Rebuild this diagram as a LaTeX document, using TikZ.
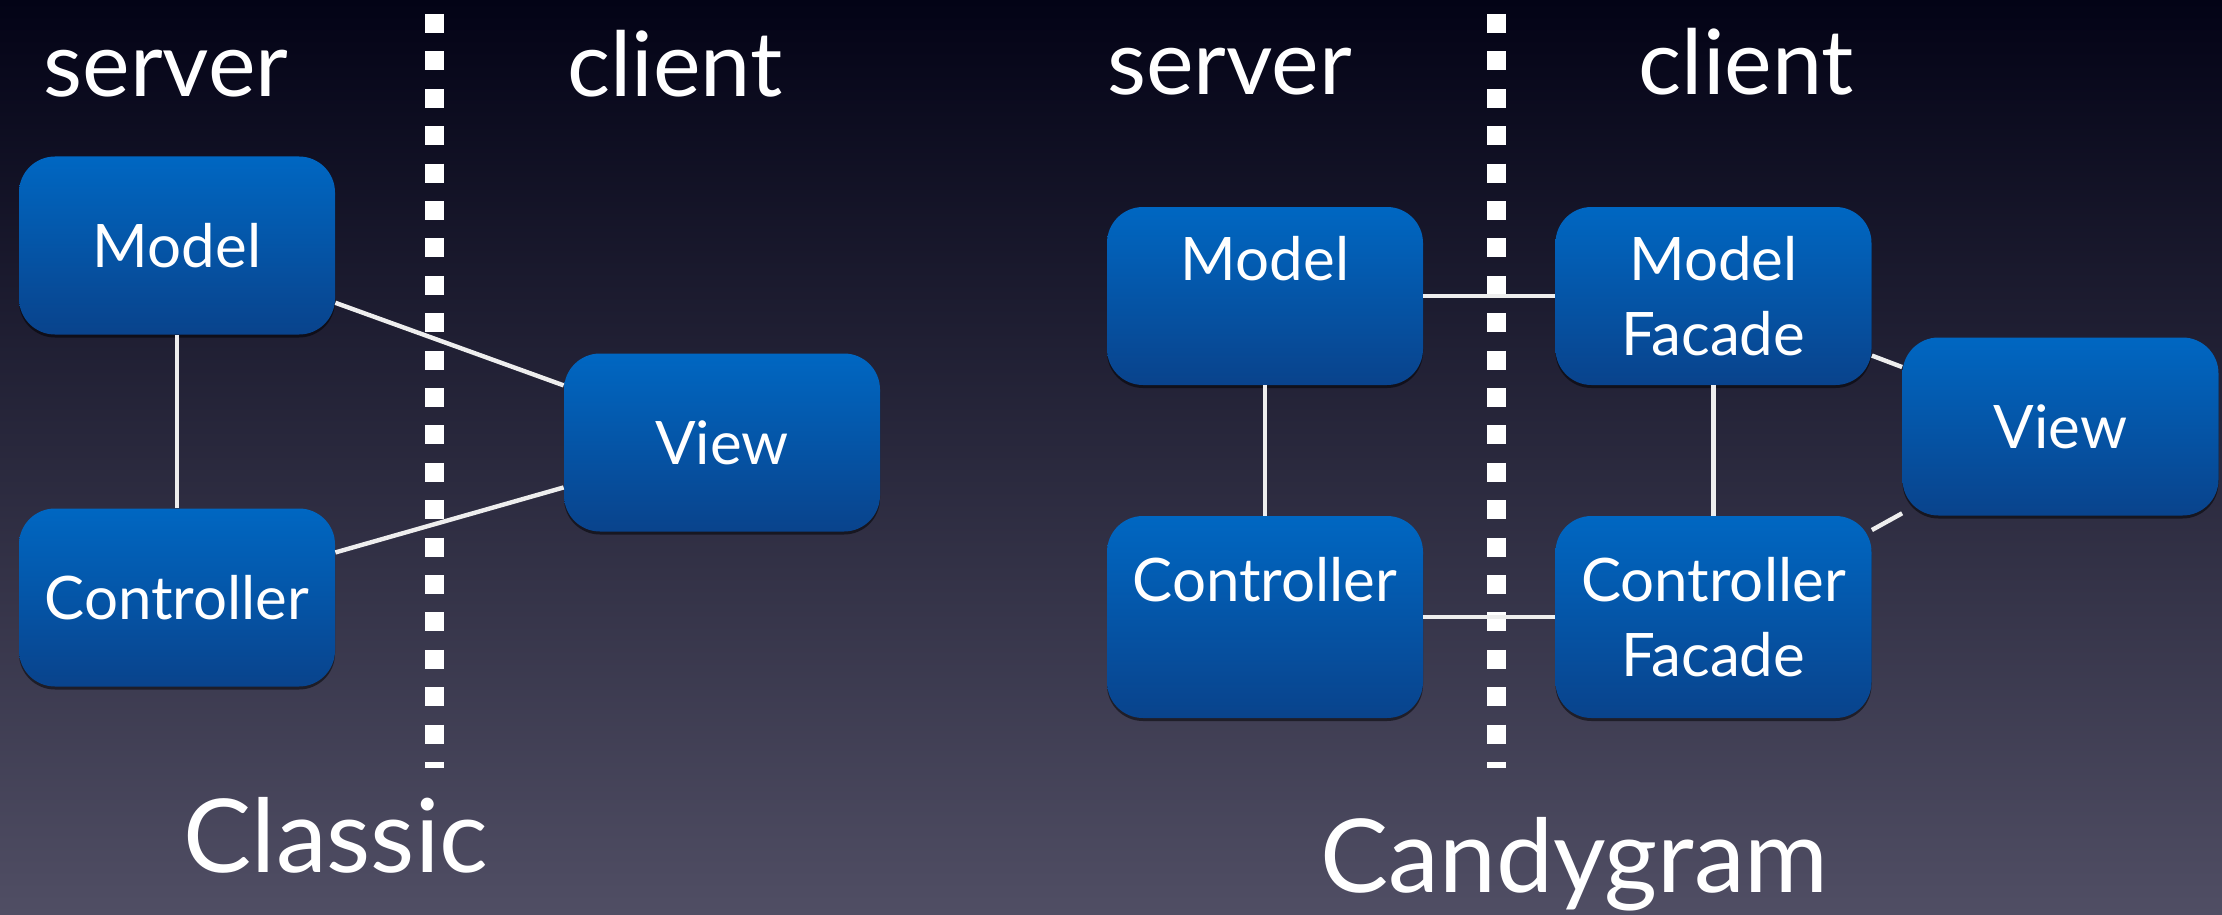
\documentclass[tikz,border=0pt]{standalone}
\usepackage{fontspec}
\setmainfont{Lato}
\usetikzlibrary{
  chains,
  scopes,
  shadows
}

\definecolor{bgtop}{RGB}{3,3,22}
\definecolor{bgmid}{RGB}{30,29,50}
\definecolor{bgbottom}{RGB}{80,78,100}
\definecolor{boxtop}{RGB}{0,103,194}
\definecolor{boxbottom}{RGB}{9,67,140}
\definecolor{linkgray}{RGB}{238,238,238}

\begin{document}
\begin{tikzpicture}[
      x=0.5pt,y=-0.5pt,
      box/.style={
         rectangle,
         rounded corners=18pt,
         minimum width=158pt,
         minimum height=89pt,
         top color=boxtop,
         bottom color=boxbottom,
         align=center,
         text=white,
         font=\fontsize{30}{37.5}\selectfont,
         drop shadow={shadow xshift=0pt,shadow yshift=-1.5pt,opacity=0.5,fill=black}
      },
      tall box/.style={box,minimum height=101pt},
      one line/.style={text depth=-6pt},
      two lines/.style={text depth=-3pt},
      heading/.style={anchor=base,text=white,font=\fontsize{45}{54}\selectfont},
      title/.style={anchor=base,text=white,font=\fontsize{51}{60}\selectfont},
      divider/.style={draw=white,line width=9.5pt,dash pattern=on 9.5pt off 9.2pt},
      every join/.style={draw=linkgray,line width=2.2pt}
    ]
    \useasboundingbox[top color=bgtop,middle color=bgmid,bottom color=bgbottom]
       (0,0) rectangle (2222,915);
    % dotted borders between server and client
    \coordinate (cltop) at (434.5,14);
    \coordinate (clbot) at (434.5,768);
    \coordinate (cgtop) at (1496.5,14);
    \coordinate (cgbot) at (1496.5,768);
    \draw[divider] (cltop) -- (clbot);
    \draw[divider] (cgtop) -- (cgbot);
    % classic
    \node (clhead1) [heading] at (166,97) {server};
    \node (clhead2) [heading] at (675,97) {client};
    \node (clmodel) [box,one line] at (177,245.5) {Model};
    \node (clctrl) [box,one line] at (177,597.5) {Controller};
    \node (clview) [box,one line] at (722,442.5) {View};
    \node (cltitle) [title] at (336,872) {Classic};
    % candygram
    \node (cghead1) [heading] at (1229.5,95) {server};
    \node (cghead2) [heading] at (1746.5,95) {client};
    \node (cgmodel) [box,two lines] at (1265,296) {Model\\\phantom{Facade}};
    \node (cgmfac) [box,two lines] at (1713.5,296) {Model\\Facade};
    \node (cgview) [box,one line] at (2060.5,426.5) {View};
    \node (cgctrl) [tall box,two lines] at (1265,617) {Controller\\\phantom{Facade}};
    \node (cgcfac) [tall box,two lines] at (1713.5,617) {Controller\\Facade};
    \node (cgtitle) [title] at (1574.5,892) {Candygram};
  { [start chain]
       \chainin (clctrl);
       \chainin (clmodel)    [join];
       \chainin (clview)     [join];
  }
  { [start chain]
       \chainin (clctrl);
       \chainin (clview)     [join];
  }
  { [start chain]
       \chainin (cgctrl);
       \chainin (cgmodel)    [join];
       \chainin (cgmfac)     [join];
       \chainin (cgview)     [join];
  }
  { [start chain]
       \chainin (cgmfac);
       \chainin (cgcfac)     [join];
       \chainin (cgview)     [join];
  }
  { [start chain]
       \chainin (cgctrl);
       \chainin (cgcfac)     [join];
  }
\end{tikzpicture}
\end{document}
